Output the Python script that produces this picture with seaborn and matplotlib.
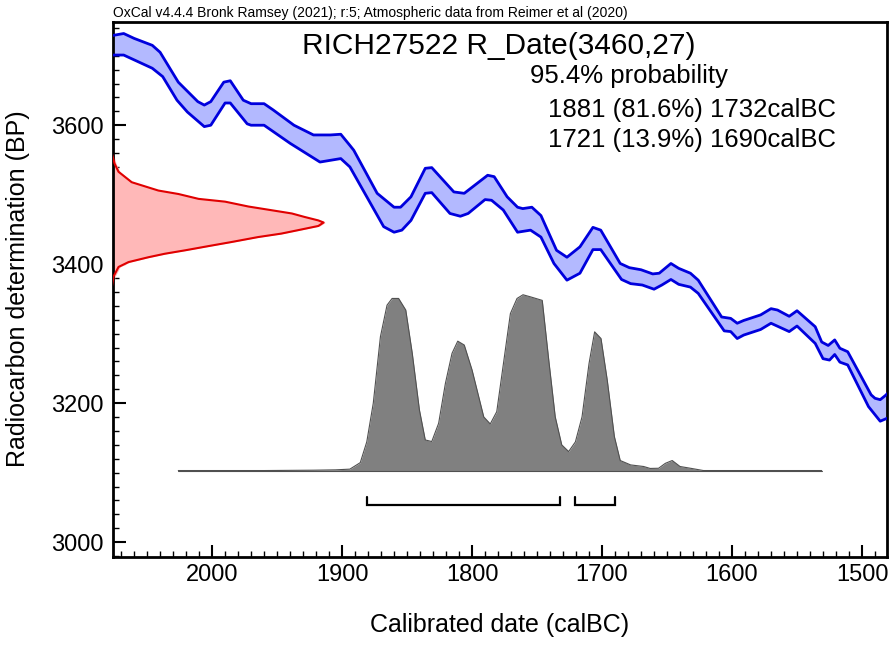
import numpy as np
import matplotlib
matplotlib.use("Agg")
import matplotlib.pyplot as plt
import seaborn as sns
from matplotlib.ticker import MultipleLocator

# calibration curve band (upper / lower edge), calBC vs BP
upper_year = [2080, 2068, 2060, 2046, 2040, 2026, 2011, 2006, 2001, 1991,
              1986, 1976, 1970, 1960, 1953, 1937, 1922, 1909, 1901, 1894,
              1891, 1873, 1860, 1855, 1847, 1836, 1831, 1814, 1806, 1788,
              1783, 1773, 1765, 1761, 1754, 1747, 1735, 1727, 1717, 1707,
              1701, 1686, 1679, 1670, 1661, 1656, 1647, 1641, 1632, 1626,
              1608, 1601, 1596, 1591, 1578, 1570, 1565, 1556, 1550, 1536,
              1531, 1526, 1521, 1517, 1511, 1493, 1490, 1486, 1482, 1476]
upper_bp = [3728, 3732, 3725, 3715, 3705, 3662, 3634, 3629, 3634, 3662,
            3664, 3636, 3631, 3631, 3622, 3600, 3586, 3586, 3587, 3571,
            3564, 3502, 3482, 3482, 3497, 3538, 3539, 3504, 3502, 3528,
            3526, 3497, 3482, 3480, 3482, 3470, 3420, 3410, 3425, 3453,
            3449, 3401, 3395, 3392, 3386, 3387, 3401, 3394, 3387, 3377,
            3324, 3322, 3315, 3319, 3327, 3336, 3334, 3325, 3333, 3310,
            3288, 3283, 3291, 3279, 3274, 3212, 3207, 3205, 3211, 3222]
lower_year = [2080, 2068, 2046, 2038, 2027, 2019, 2006, 2001, 1990, 1986,
              1973, 1970, 1960, 1940, 1917, 1901, 1894, 1868, 1860, 1854,
              1847, 1836, 1831, 1817, 1809, 1803, 1790, 1785, 1776, 1765,
              1755, 1747, 1737, 1727, 1717, 1707, 1701, 1685, 1678, 1669,
              1660, 1654, 1647, 1641, 1632, 1626, 1606, 1601, 1596, 1591,
              1578, 1570, 1556, 1550, 1536, 1530, 1525, 1521, 1517, 1511,
              1495, 1486, 1476]
lower_bp = [3701, 3701, 3682, 3670, 3636, 3619, 3598, 3600, 3632, 3632,
            3602, 3600, 3600, 3574, 3547, 3552, 3540, 3454, 3446, 3449,
            3463, 3502, 3503, 3473, 3469, 3473, 3493, 3492, 3478, 3446,
            3449, 3439, 3401, 3377, 3387, 3421, 3421, 3378, 3372, 3370,
            3364, 3370, 3378, 3371, 3367, 3358, 3304, 3303, 3293, 3298,
            3306, 3315, 3303, 3311, 3286, 3264, 3262, 3270, 3259, 3255,
            3195, 3174, 3182]

# R_Date(3460,27) - relative probability against BP
rdate_bp = [3560, 3545, 3533, 3518, 3506, 3501, 3494, 3490, 3483, 3473,
            3468, 3463, 3460, 3455, 3449, 3444, 3439, 3432, 3426, 3420,
            3415, 3410, 3403, 3396, 3382, 3366]
rdate_prob = [0.0, 0.013, 0.032, 0.094, 0.22, 0.315, 0.41, 0.535, 0.645, 0.85,
              0.91, 0.975, 1.0, 0.975, 0.88, 0.80, 0.69, 0.567, 0.456, 0.347,
              0.25, 0.173, 0.079, 0.032, 0.008, 0.0]

# calibrated date - relative probability against calBC
cal_year = [2026, 1960, 1922, 1905, 1894, 1886, 1881, 1876, 1870.5, 1865.4,
            1861.5, 1856.5, 1851, 1846, 1840.5, 1836, 1831, 1825.7, 1820.5, 1815.4,
            1811, 1806, 1800, 1791, 1786, 1781, 1770.5, 1765.4, 1760.8, 1755,
            1746, 1741, 1736, 1731, 1725.7, 1720.5, 1715.4, 1710, 1705.7, 1700.8,
            1696, 1690.5, 1686, 1678, 1668, 1663, 1656.5, 1651.3, 1646, 1640,
            1632, 1622, 1531]
cal_prob = [0, 0, 0.002, 0.004, 0.008, 0.045, 0.163, 0.383, 0.761, 0.941,
            0.979, 0.979, 0.913, 0.667, 0.345, 0.174, 0.165, 0.269, 0.496, 0.667,
            0.736, 0.714, 0.572, 0.305, 0.265, 0.335, 0.893, 0.979, 1.0, 0.988,
            0.968, 0.629, 0.305, 0.146, 0.108, 0.163, 0.305, 0.609, 0.789, 0.751,
            0.515, 0.193, 0.057, 0.032, 0.023, 0.012, 0.013, 0.041, 0.057, 0.023,
            0.013, 0, 0]

# 95.4% ranges
range_from = [1881, 1721]
range_to = [1732, 1690]
range_pct = [81.6, 13.9]

sns.set_style("ticks")
plt.rcParams['font.family'] = ['Liberation Sans', 'DejaVu Sans']
plt.rcParams['text.color'] = 'black'
plt.rcParams['xtick.color'] = 'black'
plt.rcParams['ytick.color'] = 'black'
plt.rcParams['xtick.labelcolor'] = 'black'
plt.rcParams['ytick.labelcolor'] = 'black'
plt.rcParams['lines.solid_joinstyle'] = 'round'

W, H = 893, 646
fig = plt.figure(figsize=(W / 100, H / 100), dpi=100)
ax = fig.add_axes([113.3 / W, 1 - 556.7 / H, (886.7 - 113.3) / W, (556.7 - 21.7) / H])

x_left, x_right = 2076, 1481
y_bot, y_top = 2979, 3749

# calibration curve
band_x = np.r_[upper_year, lower_year[::-1]]
band_y = np.r_[upper_bp, lower_bp[::-1]]
ax.fill(band_x, band_y, color='#b3b9ff', lw=0, zorder=2)
sns.lineplot(x=upper_year, y=upper_bp, sort=False, estimator=None,
             color='#0000dd', lw=2, ax=ax, zorder=3)
sns.lineplot(x=lower_year, y=lower_bp, sort=False, estimator=None,
             color='#0000dd', lw=2, ax=ax, zorder=3)

# measured radiocarbon date on the y axis
red_w = 163
red_x = x_left - np.array(rdate_prob) * red_w
ax.fill_betweenx(rdate_bp, x_left, red_x, color='#ffb8b8', lw=0, zorder=2)
sns.lineplot(x=red_x + 1.2, y=rdate_bp, sort=False, estimator=None,
             color='#e00000', lw=1.5, ax=ax, zorder=3)

# calibrated distribution
base, span = 3103, 253
cal_top = base + np.array(cal_prob) * span
ax.fill_between(cal_year, base, cal_top, color='#808080', lw=0, zorder=2)
sns.lineplot(x=cal_year, y=cal_top, sort=False, estimator=None,
             color='#505050', lw=0.8, ax=ax, zorder=3)
ax.plot([cal_year[0], cal_year[-1]], [base, base], color='#505050', lw=0.8, zorder=3)

# range brackets
bar_y, tick_y = 3053, 3065
for a, b in zip(range_from, range_to):
    ax.plot([a, a, b, b], [tick_y, bar_y, bar_y, tick_y], color='black',
            lw=1.6, solid_joinstyle='miter', zorder=3)

ax.set_xlim(x_left, x_right)
ax.set_ylim(y_bot, y_top)
ax.xaxis.set_major_locator(MultipleLocator(100))
ax.xaxis.set_minor_locator(MultipleLocator(10))
ax.yaxis.set_major_locator(MultipleLocator(200))
ax.yaxis.set_minor_locator(MultipleLocator(20))
ax.tick_params(which='both', direction='in', top=False, right=False,
               color='black', labelcolor='black', labelsize=17)
ax.tick_params(which='major', length=9, width=1.5)
ax.tick_params(which='minor', length=4, width=1)
ax.tick_params(axis='x', which='major', pad=5)
ax.tick_params(axis='y', which='major', pad=7)
for s in ax.spines.values():
    s.set_visible(True)
    s.set_linewidth(2)
    s.set_color('black')
ax.set_xlabel('')
ax.set_ylabel('')

fig.text(500 / W, 1 - 625 / H, 'Calibrated date (calBC)', fontsize=18,
         ha='center', va='center', color='black')
fig.text(18 / W, 1 - 289 / H, 'Radiocarbon determination (BP)', fontsize=18,
         ha='center', va='center', rotation=90, color='black')

fig.text(113 / W, 1 - 17.5 / H,
         'OxCal v4.4.4 Bronk Ramsey (2021); r:5; Atmospheric data from Reimer et al (2020)',
         fontsize=10, ha='left', va='baseline', color='black')
fig.text(302.5 / W, 1 - 54.3 / H, 'RICH27522 R_Date(3460,27)', fontsize=21.5,
         ha='left', va='baseline', color='black')
fig.text(530 / W, 1 - 83.3 / H, '95.4% probability', fontsize=18.5,
         ha='left', va='baseline', color='black')
for i, (a, b, p) in enumerate(zip(range_from, range_to, range_pct)):
    fig.text(548 / W, 1 - (116.7 + 30 * i) / H, f'{a} ({p}%) {b}calBC',
             fontsize=18.5, ha='left', va='baseline', color='black')

fig.savefig('out.png', dpi=100)
